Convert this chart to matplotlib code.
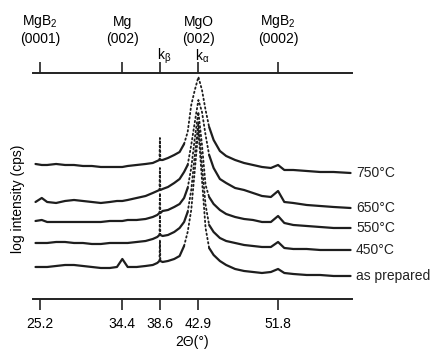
import matplotlib
matplotlib.use("Agg")
import matplotlib.pyplot as plt
import numpy as np

plt.rcParams['font.family'] = ['Liberation Sans', 'DejaVu Sans']
plt.rcParams['mathtext.fontset'] = 'custom'
plt.rcParams['mathtext.rm'] = 'Liberation Sans'
plt.rcParams['mathtext.it'] = 'Liberation Sans'

# ==========================================
# DATA (2theta in degrees, log intensity in arbitrary units incl. offset)
# ==========================================
two_theta = [24.7, 25.4, 26, 27, 28, 29, 30, 31, 32, 33, 33.8, 34.4, 35.0, 36, 37,
             37.8, 38.3, 38.55, 38.6, 38.65, 38.9, 39.5, 40.2, 40.8, 41.3, 41.7,
             42.1, 42.5, 42.9, 43.3, 43.7, 44.1, 44.6, 45.3, 46, 47, 48, 49, 50,
             51, 51.8, 52.5, 53.5, 55, 56.5, 58, 59.9]

log_750 = [6.75, 6.70, 6.70, 6.75, 6.70, 6.70, 6.65, 6.65, 6.60, 6.60, 6.60, 6.60, 6.65,
           6.70, 6.75, 6.80, 6.90, 6.95, 8.05, 6.95, 6.95, 7.05, 7.20, 7.35, 7.75, 8.35,
           9.70, 10.45, 11.10, 10.45, 9.45, 8.60, 7.95, 7.40, 7.15, 6.95, 6.80, 6.70,
           6.60, 6.55, 6.70, 6.45, 6.45, 6.40, 6.35, 6.35, 6.30]

log_650 = [4.85, 5.05, 4.85, 4.80, 4.90, 4.95, 4.90, 4.85, 4.80, 4.85, 4.90, 4.90, 4.95,
           5.05, 5.15, 5.30, 5.40, 5.45, 6.55, 5.45, 5.50, 5.60, 5.80, 6.00, 6.35, 6.70,
           7.70, 8.85, 9.95, 9.35, 8.20, 7.20, 6.55, 6.00, 5.80, 5.55, 5.45, 5.30,
           5.15, 5.10, 5.40, 4.85, 4.80, 4.70, 4.65, 4.60, 4.55]

log_550 = [3.90, 3.95, 3.85, 3.85, 3.85, 3.85, 3.85, 3.85, 3.85, 3.90, 3.90, 3.90, 3.95,
           3.95, 4.00, 4.10, 4.20, 4.30, 5.30, 4.30, 4.40, 4.45, 4.60, 4.75, 5.05, 5.55,
           6.55, 8.05, 9.35, 7.70, 5.70, 5.10, 4.75, 4.45, 4.25, 4.10, 4.00, 3.95,
           3.85, 3.85, 4.15, 3.80, 3.70, 3.65, 3.60, 3.55, 3.55]

log_450 = [2.80, 2.80, 2.80, 2.85, 2.85, 2.80, 2.80, 2.75, 2.75, 2.80, 2.80, 2.80, 2.80,
           2.85, 2.90, 3.00, 3.10, 3.20, 4.20, 3.20, 3.15, 3.20, 3.35, 3.55, 3.85, 4.35,
           5.45, 7.20, 8.85, 6.70, 4.70, 3.70, 3.35, 3.05, 2.90, 2.80, 2.70, 2.65,
           2.60, 2.60, 2.85, 2.55, 2.50, 2.50, 2.45, 2.45, 2.45]

log_prep = [1.60, 1.60, 1.60, 1.65, 1.70, 1.70, 1.65, 1.60, 1.55, 1.55, 1.60, 2.00, 1.60,
            1.60, 1.65, 1.70, 1.80, 1.90, 2.95, 1.90, 1.85, 1.90, 2.00, 2.15, 2.65, 3.35,
            4.45, 6.45, 8.45, 5.95, 3.55, 2.55, 2.20, 1.90, 1.70, 1.50, 1.40, 1.35,
            1.30, 1.35, 1.50, 1.30, 1.25, 1.20, 1.20, 1.15, 1.15]

series = [log_750, log_650, log_550, log_450, log_prep]
series_labels = ['750°C', '650°C', '550°C', '450°C', 'as prepared']

tick_pos = [25.2, 34.4, 38.6, 42.9, 51.8]
tick_labels = ['25.2', '34.4', '38.6', '42.9', '51.8']

# phase labels on the top axis
phase_pos = [25.2, 34.4, 42.9, 51.8]
phase_name = [r'MgB$_2$', 'Mg', 'MgO', r'MgB$_2$']
phase_hkl = ['(0001)', '(002)', '(002)', '(0002)']
line_pos = [38.6, 42.9]
line_names = [r'k$_\beta$', r'k$_\alpha$']

LINE_COLOR = '#1e1e1e'

# ==========================================
# PLOT
# ==========================================
fig = plt.figure(figsize=(4.36, 3.64), dpi=100)
ax = fig.add_axes([0.0757, 0.1786, 0.7316, 0.6209])
ax.set_xlim(24.42, 60.06)
ax.set_ylim(0, 11.3)


def draw_scan(xs, ys):
    # steep parts of a scan have sparse points -> draw them dotted
    pts = ax.transData.transform(np.column_stack([xs, ys]))
    steep = []
    for i in range(len(xs) - 1):
        dx = abs(pts[i + 1, 0] - pts[i, 0])
        dy = abs(pts[i + 1, 1] - pts[i, 1])
        steep.append(dy > 6 and dy > 3 * dx)
    # group runs of same kind
    start = 0
    for i in range(1, len(steep) + 1):
        if i == len(steep) or steep[i] != steep[start]:
            seg_x = xs[start:i + 1]
            seg_y = ys[start:i + 1]
            if steep[start]:
                ax.plot(seg_x, seg_y, color=LINE_COLOR, lw=1.3,
                        linestyle=(0, (0.8, 1.6)), dash_capstyle='round')
            else:
                ax.plot(seg_x, seg_y, color=LINE_COLOR, lw=1.6,
                        solid_joinstyle='round', solid_capstyle='round')
            start = i


for ys, lab in zip(series, series_labels):
    draw_scan(two_theta, ys)
    ax.annotate(lab, xy=(two_theta[-1], ys[-1]), xytext=(4, 0),
                textcoords='offset points', ha='left', va='center',
                fontsize=10, color='#222222')

for side in ['left', 'right']:
    ax.spines[side].set_visible(False)
for side in ['top', 'bottom']:
    ax.spines[side].set_linewidth(1.4)
    ax.spines[side].set_color('#222222')

ax.set_yticks([])
ax.set_xticks(tick_pos)
ax.set_xticklabels(tick_labels)
ax.tick_params(axis='x', which='both', direction='out', length=8, width=1.2,
               color='#222222', top=True, labeltop=False, labelsize=10, pad=5)
ax.set_xlabel('2Θ(°)', fontsize=10, labelpad=3)

for xp, name, hkl in zip(phase_pos, phase_name, phase_hkl):
    ax.annotate(name, xy=(xp, 1), xycoords=('data', 'axes fraction'),
                xytext=(0, 37), textcoords='offset points',
                ha='center', va='center', fontsize=10)
    ax.annotate(hkl, xy=(xp, 1), xycoords=('data', 'axes fraction'),
                xytext=(0, 24.5), textcoords='offset points',
                ha='center', va='center', fontsize=10)

for xp, name in zip(line_pos, line_names):
    ax.annotate(name, xy=(xp, 1), xycoords=('data', 'axes fraction'),
                xytext=(3, 12), textcoords='offset points',
                ha='center', va='center', fontsize=10)

fig.text(18 / 436, 1 - 199 / 364, 'log intensity (cps)', rotation=90,
         ha='center', va='center', fontsize=10)

fig.savefig('out.png', dpi=100)
